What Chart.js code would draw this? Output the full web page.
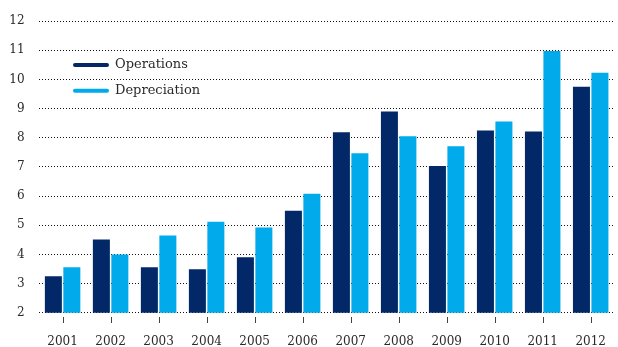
<!DOCTYPE html>
<html>
<head>
<meta charset="utf-8">
<script src="https://cdn.jsdelivr.net/npm/chart.js@4"></script>
<style>
  html, body { margin: 0; padding: 0; background: #fff; }
  #wrap { width: 618px; height: 347px; }
</style>
</head>
<body>
<div id="wrap"><canvas id="c" width="618" height="347"></canvas></div>
<script>
const years = ['2001','2002','2003','2004','2005','2006','2007','2008','2009','2010','2011','2012'];
const operations   = [3.25, 4.51, 3.56, 3.49, 3.90, 5.50, 8.19, 8.90, 7.03, 8.25, 8.22, 9.75];
const depreciation = [3.56, 4.00, 4.65, 5.12, 4.92, 6.08, 7.47, 8.05, 7.71, 8.56, 10.98, 10.23];
const seriesNames = ['Operations', 'Depreciation'];
const yTicks = [2, 3, 4, 5, 6, 7, 8, 9, 10, 11, 12];

const NAVY = '#032868';
const SKY = '#00AAEB';
const TEXT = '#2a2a2a';
const FONT = "'DejaVu Serif', 'Liberation Serif', serif";

// Inset legend plus the short category tick marks under the baseline
const decorations = {
  id: 'decorations',
  afterDraw(chart) {
    const ctx = chart.ctx;
    const x0 = 75, x1 = 107, tx = 115;
    const rows = [65, 90.7];
    ctx.save();
    chart.data.datasets.forEach((ds, i) => {
      const y = rows[i];
      ctx.beginPath();
      ctx.lineCap = 'round';
      ctx.lineWidth = 4;
      ctx.strokeStyle = ds.backgroundColor;
      ctx.moveTo(x0, y);
      ctx.lineTo(x1, y);
      ctx.stroke();
      ctx.fillStyle = TEXT;
      ctx.font = '13px ' + FONT;
      ctx.textBaseline = 'middle';
      ctx.textAlign = 'left';
      ctx.fillText(ds.label, tx, y);
    });

    // category centres: midway between the two bars of each year
    const a = chart.getDatasetMeta(0).data;
    const b = chart.getDatasetMeta(1).data;
    const base = Math.round(chart.chartArea.bottom);
    ctx.globalAlpha = 1;
    ctx.fillStyle = '#444444';
    for (let i = 0; i < years.length; i++) {
      const cx = Math.round((a[i].x + b[i].x) / 2);
      ctx.fillRect(cx, base + 4, 1, 6);
    }
    ctx.restore();
  }
};

new Chart(document.getElementById('c'), {
  type: 'bar',
  data: {
    labels: years,
    datasets: [
      { label: seriesNames[0], data: operations, backgroundColor: NAVY },
      { label: seriesNames[1], data: depreciation, backgroundColor: SKY }
    ]
  },
  options: {
    responsive: false,
    animation: false,
    events: [],
    layout: { padding: { top: 19, right: 1, left: 0, bottom: 0 } },
    datasets: { bar: { categoryPercentage: 0.77, barPercentage: 0.92 } },
    plugins: { legend: { display: false }, tooltip: { enabled: false } },
    scales: {
      x: {
        z: 0,
        border: { display: false },
        grid: { display: false, tickLength: 10 },
        ticks: { color: TEXT, font: { family: FONT, size: 12 }, padding: 12, maxRotation: 0 },
        afterFit(scale) { scale.height = 34.3; }
      },
      y: {
        z: 1,
        min: 2,
        max: 12,
        border: { display: false, dash: [1, 2] },
        grid: {
          color: '#111',
          lineWidth: 1,
          drawTicks: false
        },
        afterBuildTicks(scale) { scale.ticks = yTicks.map(v => ({ value: v })); },
        ticks: { color: TEXT, font: { family: FONT, size: 12 }, padding: 14 },
        afterFit(scale) { scale.width = 38.6; }
      }
    }
  },
  plugins: [decorations]
});
</script>
</body>
</html>
